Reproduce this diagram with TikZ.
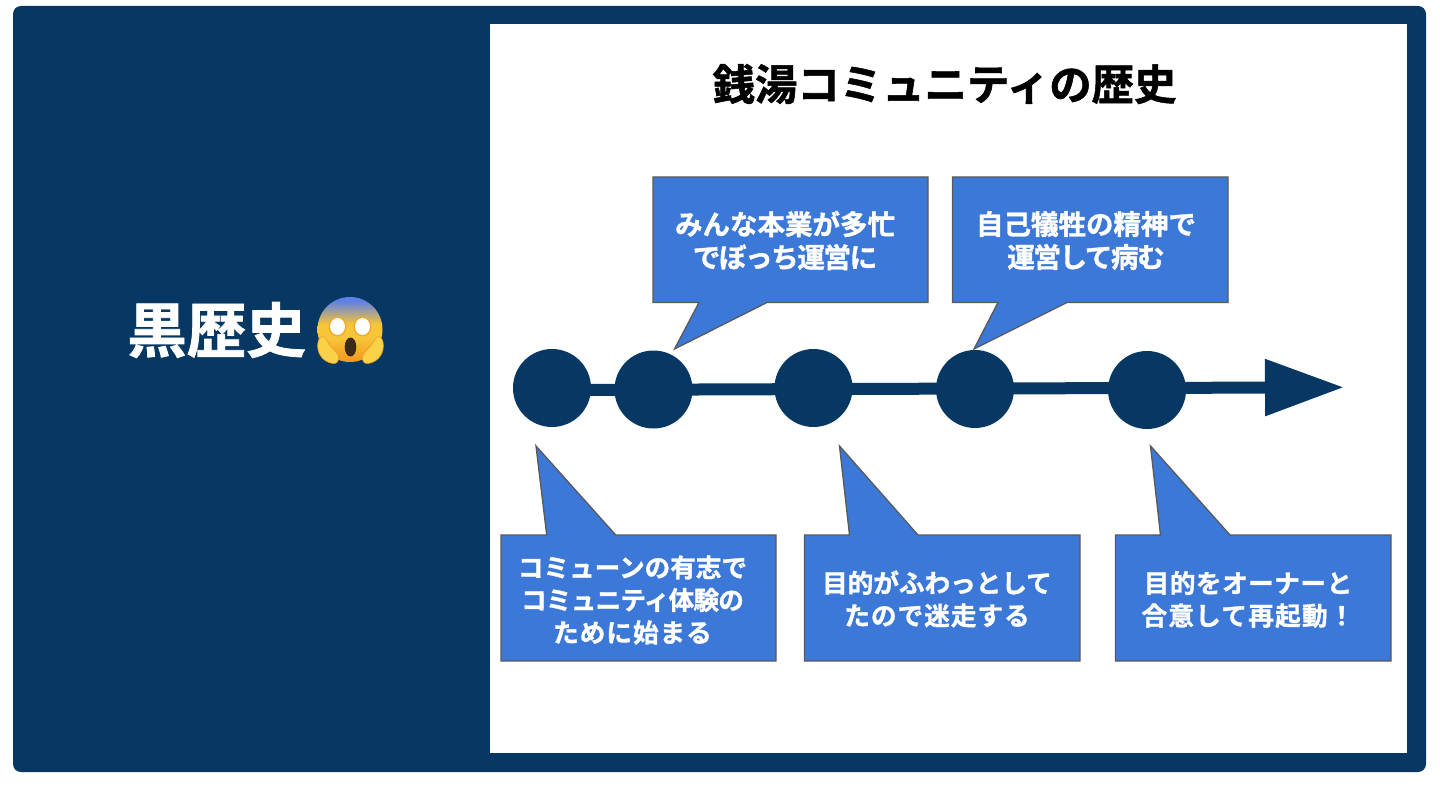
\documentclass[tikz,border=0pt]{standalone}
\usepackage{fontspec}
\usetikzlibrary{arrows.meta}
\newfontfamily\jpfont[BoldFont={* Bold},BoldFeatures={FakeBold=1.3}]{Noto Sans CJK JP}
\newcommand{\lsp}[2]{{\addfontfeature{LetterSpace=#1}#2}}
\definecolor{navy}{HTML}{073763}
\definecolor{callblue}{HTML}{3C78D8}
\definecolor{callline}{HTML}{595959}
\definecolor{facetop}{HTML}{5F80E6}
\definecolor{facemid}{HTML}{F6C53A}
\definecolor{facelow}{HTML}{F29A1F}
\definecolor{handcol}{HTML}{FAD24A}
\definecolor{mouthcol}{HTML}{3B2A1C}
\pgfdeclareverticalshading{screamface}{100bp}{
  color(0bp)=(facelow);
  color(26bp)=(facelow);
  color(44bp)=(facemid);
  color(54bp)=(facemid);
  color(72bp)=(facetop);
  color(100bp)=(facetop)}
\tikzset{
  dot/.style={circle,fill=navy,minimum size=78pt,inner sep=0pt},
  callout/.style={fill=callblue,draw=callline,line width=1.3pt,line join=miter},
  topline/.style={text=white,font=\jpfont\bfseries\fontsize{27.5}{33}\selectfont,align=center,inner sep=0pt},
  botline/.style={text=white,font=\jpfont\bfseries\fontsize{25.6}{32.5}\selectfont,align=center,inner sep=0pt},
  flow/.style={draw=navy,line width=12pt,-{Triangle[length=79pt,width=54pt,fill=navy]}},
  hand/.style={fill=handcol,draw=facelow,line width=.5pt}
}
\begin{document}
\begin{tikzpicture}[x=1pt,y=-1pt]
\useasboundingbox (0,0) rectangle (1440,810);
\fill[white] (0,0) rectangle (1440,810);
\fill[navy,rounded corners=8pt] (13,6) rectangle (1426,772);
\fill[white] (490,24) rectangle (1407,753);
\node[text=white,font=\jpfont\bfseries\fontsize{59.5}{60}\selectfont,inner sep=0pt] (side) at (216.5,330) {黒歴史};
% emoji
\shade[shading=screamface] (350,329.5) ellipse [x radius=32.5,y radius=32.5];
\fill[facelow!70!facemid] (337.5,326.5) ellipse [x radius=9,y radius=10];
\fill[facelow!70!facemid] (362.5,326.5) ellipse [x radius=9,y radius=10];
\fill[white] (337.5,326.5) ellipse [x radius=7.5,y radius=8.5];
\fill[white] (362.5,326.5) ellipse [x radius=7.5,y radius=8.5];
\fill[mouthcol] (350.5,347) ellipse [x radius=5.8,y radius=9.5];
\path[hand] (318,342) .. controls (316,352) and (322,362) .. (333,363.5) .. controls (340,364) and (340,356) .. (336,352) .. controls (332,348) and (328,344) .. (326,339) .. controls (324,335) and (319,336) .. (318,342) -- cycle;
\path[hand] (383,342) .. controls (385,352) and (379,362) .. (368,363.5) .. controls (361,364) and (361,356) .. (365,352) .. controls (369,348) and (373,344) .. (375,339) .. controls (377,335) and (382,336) .. (383,342) -- cycle;
\node[text=black,font=\jpfont\bfseries\fontsize{42.4}{44}\selectfont,inner sep=0pt] (title) at (944.5,84) {銭湯コミュニティの歴史};
\node[dot] (c1) at (552,388) {};
\node[dot] (c2) at (653.5,389.5) {};
\node[dot] (c3) at (813.5,388) {};
\node[dot] (c4) at (975,389) {};
\node[dot] (c5) at (1147,390) {};
\coordinate (tip) at (1344,387.3);
\coordinate (tail) at (552,390);
\draw[flow] (tail) -- (tip);
% top callouts
\path[callout] (653,177) -- (928,177) -- (928,302.5) -- (767,302.5) -- (674.5,349) -- (699,302.5) -- (653,302.5) -- cycle;
\node[topline] (t1) at (785,240.5) {みんな本業が多忙\\\lsp{-5}{でぼっち運営に}};
\path[callout] (952.5,177) -- (1228,177) -- (1228,302.5) -- (1067,302.5) -- (974,349) -- (998,302.5) -- (952.5,302.5) -- cycle;
\node[topline] (t2) at (1086,240.5) {自己犠牲の精神で\\\lsp{-5}{運営して病む}};
% bottom callouts
\path[callout] (501,535) -- (546.7,535) -- (536,446) -- (615.7,535) -- (776,535) -- (776,661) -- (501,661) -- cycle;
\node[botline] (b1) at (632.5,600) {コミューンの有志で\\\lsp{-3}{コミュニティ体験の}\\\lsp{4}{ために始まる}};
\path[callout] (804.5,535) -- (849.5,535) -- (839.5,446) -- (918,535) -- (1080,535) -- (1080,661) -- (804.5,661) -- cycle;
\node[botline] (b2) at (937,599) {目的がふわっとして\\\lsp{4}{たので迷走する}};
\path[callout] (1115.5,535) -- (1160.5,535) -- (1150.5,446) -- (1230,535) -- (1391,535) -- (1391,661) -- (1115.5,661) -- cycle;
\node[botline] (b3) at (1248,599.5) {\lsp{2}{目的をオーナーと}\\\lsp{5}{合意して再起動！}};
\end{tikzpicture}
\end{document}
